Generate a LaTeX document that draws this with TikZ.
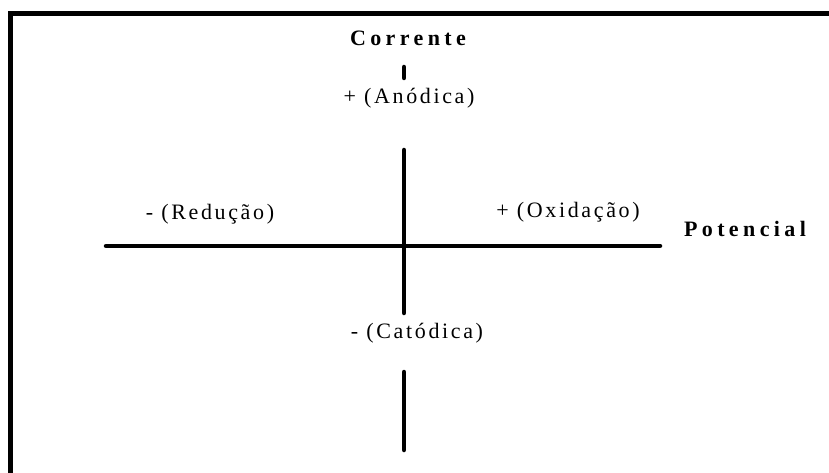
\documentclass[tikz,border=0pt]{standalone}
\usepackage{fontspec}
\setmainfont{Liberation Serif}
\newfontfamily\spacedfont[LetterSpace=12]{Liberation Serif}
\newfontfamily\widefont[LetterSpace=20]{Liberation Serif}
\usetikzlibrary{positioning}
\tikzset{
  every picture/.style={x=1pt, y=-1pt},
  axis/.style={line width=4.5pt, line cap=round},
  frameline/.style={line width=5pt},
  lab/.style={font=\spacedfont\fontsize{22}{26}\selectfont, anchor=base, inner sep=0pt},
  axname/.style={font=\widefont\fontsize{22}{26}\selectfont\bfseries, anchor=base, inner sep=0pt},
}

\begin{document}
\begin{tikzpicture}
  \useasboundingbox (0,0) rectangle (829,473);
  % frame (only top and left visible)
  \draw[frameline] (10.5,473) -- (10.5,13.5) -- (829,13.5);
  % axis ends
  \coordinate (tickA) at (404,67);
  \coordinate (tickB) at (404,78);
  \coordinate (up) at (404,150);
  \coordinate (down) at (404,313);
  \coordinate (lowA) at (404,372);
  \coordinate (lowB) at (404,450);
  \coordinate (left) at (106,246);
  \coordinate (right) at (660,246);
  \draw[axis] (tickA) -- (tickB);
  \draw[axis] (up) -- (down);
  \draw[axis] (lowA) -- (lowB);
  \draw[axis] (left) -- (right);
  % labels
  \node[axname] (corr) at (408,46) {Corrente};
  \node[lab] (anod) at (409,104) {+ (Anódica)};
  \node[lab] (red) at (210,219) {- (Redução)};
  \node[lab] (oxi) at (568,217) {+ (Oxidação)};
  \node[axname] (pot) at (745,236) {Potencial};
  \node[lab] (cat) at (417,338) {- (Catódica)};
\end{tikzpicture}
\end{document}
